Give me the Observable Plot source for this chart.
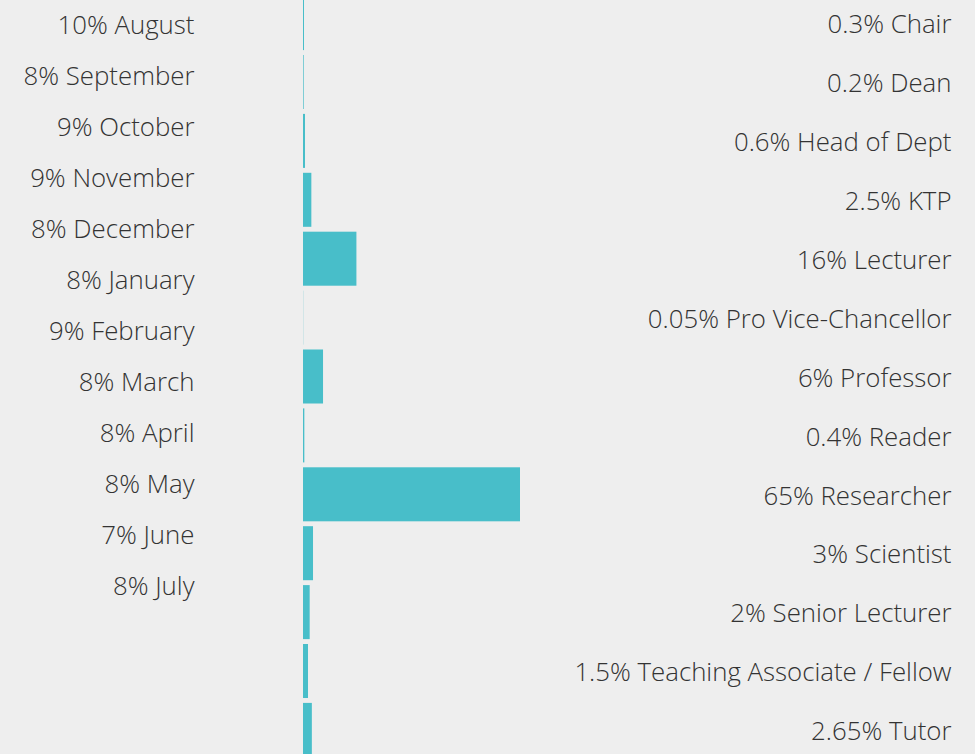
<!DOCTYPE html>
<html>
<head>
<meta charset="utf-8">
<script src="https://cdn.jsdelivr.net/npm/d3@7"></script>
<script src="https://cdn.jsdelivr.net/npm/@observablehq/plot@0.6"></script>
<style>
  html, body { margin: 0; padding: 0; background: #eeeeee; }
  #wrap { position: relative; width: 975px; height: 754px; overflow: hidden; background: #eeeeee; }
  #wrap svg { position: absolute; left: 0; top: 0; }
</style>
</head>
<body>
<div id="wrap"></div>
<script>
const months = ["August","September","October","November","December","January","February","March","April","May","June","July"];
const monthShares = [10, 8, 9, 9, 8, 8, 9, 8, 8, 8, 7, 8];

const roles = ["Chair","Dean","Head of Dept","KTP","Lecturer","Pro Vice-Chancellor","Professor","Reader","Researcher","Scientist","Senior Lecturer","Teaching Associate / Fellow","Tutor"];
const roleShares = [0.3, 0.2, 0.6, 2.5, 16, 0.05, 6, 0.4, 65, 3, 2, 1.5, 2.65];

const monthData = months.map((m, i) => ({name: m, value: monthShares[i], label: `${monthShares[i]}% ${m}`}));
const roleData = roles.map((r, i) => ({name: r, value: roleShares[i], label: `${roleShares[i]}% ${r}`}));

const font = "'Open Sans', sans-serif";
const textColor = "#333333";
const barColor = "#48bec9";

const rolePlot = Plot.plot({
  width: 975,
  height: 754,
  margin: 0,
  style: {background: "transparent", fontFamily: font},
  x: {domain: [0, 65], range: [303, 520], axis: null},
  y: {domain: roles, range: [-8.8, 761.8], padding: 0.083, round: false, axis: null},
  marks: [
    Plot.barX(roleData, {x: "value", y: "name", fill: barColor}),
    Plot.text(roleData, {y: "name", text: "label", frameAnchor: "right", dx: -24, dy: 1.5, textAnchor: "end", fontSize: 25.8, fontWeight: 300, fill: textColor})
  ]
});

const monthPlot = Plot.plot({
  width: 975,
  height: 754,
  margin: 0,
  style: {background: "transparent", fontFamily: font},
  y: {type: "point", domain: months, range: [22, 588], padding: 0, axis: null},
  marks: [
    Plot.text(monthData, {y: "name", text: "label", frameAnchor: "left", dx: 194, dy: 0, textAnchor: "end", fontSize: 25.8, fontWeight: 300, fill: textColor})
  ]
});

const wrap = document.getElementById("wrap");
wrap.appendChild(rolePlot);
wrap.appendChild(monthPlot);
</script>
</body>
</html>
